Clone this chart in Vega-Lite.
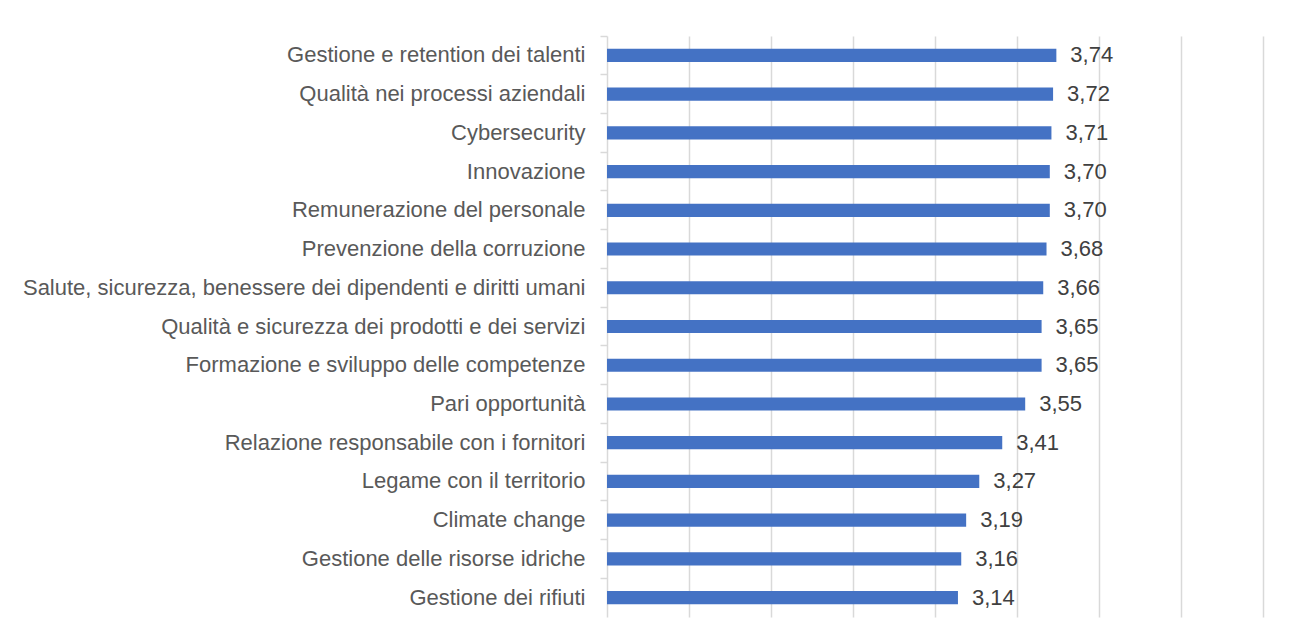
{
  "$schema": "https://vega.github.io/schema/vega-lite/v6.json",
  "width": 656,
  "height": 581,
  "autosize": "none",
  "padding": {"left": 607, "top": 36, "right": 27, "bottom": 25},
  "background": "white",
  "config": {
    "view": {"stroke": null},
    "font": "Liberation Sans",
    "locale": {"number": {"decimal": ",", "thousands": ".", "grouping": [3], "currency": ["€", ""]}}
  },
  "data": {
    "values": [
      {"tema": "Gestione e retention dei talenti", "valore": 3.74},
      {"tema": "Qualità nei processi aziendali", "valore": 3.72},
      {"tema": "Cybersecurity", "valore": 3.71},
      {"tema": "Innovazione", "valore": 3.70},
      {"tema": "Remunerazione del personale", "valore": 3.70},
      {"tema": "Prevenzione della corruzione", "valore": 3.68},
      {"tema": "Salute, sicurezza, benessere dei dipendenti e diritti umani", "valore": 3.66},
      {"tema": "Qualità e sicurezza dei prodotti e dei servizi", "valore": 3.65},
      {"tema": "Formazione e sviluppo delle competenze", "valore": 3.65},
      {"tema": "Pari opportunità", "valore": 3.55},
      {"tema": "Relazione responsabile con i fornitori", "valore": 3.41},
      {"tema": "Legame con il territorio", "valore": 3.27},
      {"tema": "Climate change", "valore": 3.19},
      {"tema": "Gestione delle risorse idriche", "valore": 3.16},
      {"tema": "Gestione dei rifiuti", "valore": 3.14}
    ]
  },
  "encoding": {
    "y": {
      "field": "tema",
      "type": "nominal",
      "sort": null,
      "title": null,
      "scale": {"paddingInner": 0.66, "paddingOuter": 0.33},
      "axis": {
        "bandPosition": -0.97,
        "domainColor": "#d9d9d9",
        "domainWidth": 1.5,
        "tickColor": "#d9d9d9",
        "tickWidth": 1.5,
        "tickSize": 7,
        "labelPadding": 15,
        "labelFontSize": 22,
        "labelColor": "#595959",
        "labelLimit": 800,
        "grid": false
      }
    },
    "x": {
      "field": "valore",
      "type": "quantitative",
      "scale": {"domain": [1, 5], "nice": false, "zero": false},
      "title": null,
      "axis": {
        "values": [1.5, 2, 2.5, 3, 3.5, 4, 4.5, 5],
        "labels": false,
        "ticks": false,
        "domain": false,
        "grid": true,
        "gridColor": "#d9d9d9",
        "gridWidth": 1.5
      }
    }
  },
  "layer": [
    {
      "mark": {"type": "bar", "color": "#4472C4"},
      "encoding": {"x2": {"datum": 1}}
    },
    {
      "mark": {"type": "text", "align": "left", "dx": 14, "fontSize": 22, "color": "#404040"},
      "encoding": {
        "text": {"field": "valore", "type": "quantitative", "format": ".2f"}
      }
    }
  ]
}
